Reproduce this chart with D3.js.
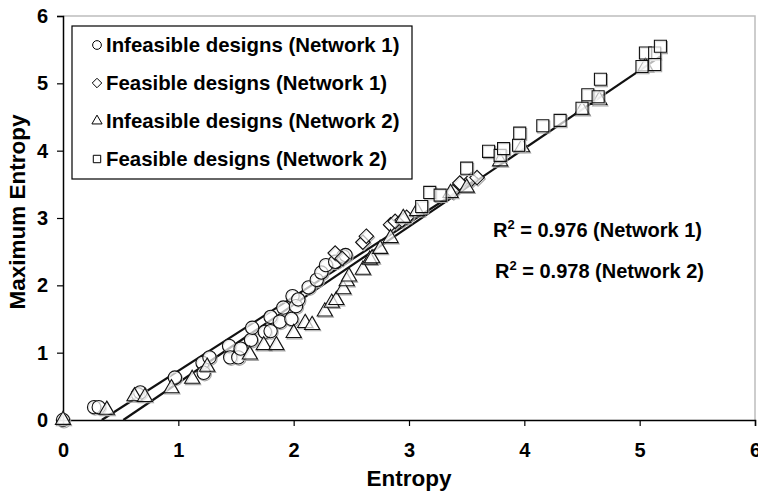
<!DOCTYPE html>
<html>
<head>
<meta charset="utf-8">
<script src="https://cdn.jsdelivr.net/npm/d3@7"></script>
<style>
    body { margin: 0; background: #fff; }
    text { font-family: "Liberation Sans", Arial, sans-serif; font-weight: bold; fill: #000; }
</style>
</head>
<body>
<div id="chart"></div>
<script>
// Infeasible designs (Network 1) - circles
const inf1X = [0, 0.27, 0.31, 0.65, 0.67, 0.97, 1.21, 1.22, 1.27, 1.44, 1.45, 1.52, 1.54, 1.63, 1.64, 1.75, 1.80, 1.80, 1.88, 1.91, 1.98, 1.99, 2.02, 2.04, 2.13, 2.20, 2.24, 2.28, 2.36, 2.43, 2.45];
const inf1Y = [0, 0.19, 0.19, 0.38, 0.41, 0.63, 0.85, 0.70, 0.93, 1.10, 0.93, 0.93, 1.06, 1.19, 1.37, 1.31, 1.32, 1.53, 1.46, 1.67, 1.50, 1.84, 1.69, 1.79, 1.97, 2.08, 2.19, 2.30, 2.35, 2.43, 2.45];
// Feasible designs (Network 1) - diamonds
const fea1X = [2.36, 2.42, 2.60, 2.63, 2.84, 2.88, 2.94, 2.98, 3.38, 3.44, 3.54, 3.59];
const fea1Y = [2.48, 2.40, 2.64, 2.73, 2.90, 2.95, 2.97, 3.01, 3.39, 3.52, 3.57, 3.60];
// Infeasible designs (Network 2) - triangles
const inf2X = [0, 0.38, 0.62, 0.71, 0.94, 1.12, 1.25, 1.62, 1.74, 1.85, 2.00, 2.10, 2.16, 2.27, 2.33, 2.37, 2.43, 2.46, 2.48, 2.60, 2.66, 2.68, 2.75, 2.84, 2.95, 3.07, 3.36, 3.50, 3.79, 3.98, 4.50, 4.65, 5.05];
const inf2Y = [0, 0.15, 0.35, 0.34, 0.47, 0.61, 0.79, 0.97, 1.11, 1.11, 1.29, 1.44, 1.41, 1.61, 1.74, 1.78, 1.94, 2.06, 2.13, 2.23, 2.38, 2.40, 2.54, 2.70, 3.00, 3.10, 3.37, 3.45, 3.84, 4.05, 4.60, 4.75, 5.25];
// Feasible designs (Network 2) - squares
const fea2X = [3.11, 3.18, 3.27, 3.50, 3.69, 3.79, 3.82, 3.95, 3.96, 4.16, 4.31, 4.50, 4.55, 4.64, 4.66, 5.02, 5.05, 5.13, 5.13, 5.18];
const fea2Y = [3.17, 3.38, 3.34, 3.74, 3.99, 3.93, 4.03, 4.08, 4.26, 4.37, 4.45, 4.63, 4.83, 4.80, 5.06, 5.25, 5.45, 5.45, 5.28, 5.55];

// trend lines (end points)
const trend1 = [[0.336, 0], [3.6, 3.59]];
const trend2 = [[0.523, 0], [5.18, 5.40]];

const xTicks = [0, 1, 2, 3, 4, 5, 6];
const yTicks = [0, 1, 2, 3, 4, 5, 6];

const legendNames = ["Infeasible designs (Network 1)", "Feasible designs (Network 1)",
    "Infeasible designs (Network 2)", "Feasible designs (Network 2)"];
const r2Labels = [["0.976", "Network 1"], ["0.978", "Network 2"]];

const width = 758, height = 491;
const margin = {top: 16, right: 3, bottom: 71, left: 63};

const svg = d3.select("#chart").append("svg")
    .attr("width", width)
    .attr("height", height);

const xx = d3.scaleLinear().domain([0, 6]).range([margin.left, width - margin.right]);
const yy = d3.scaleLinear().domain([0, 6]).range([height - margin.bottom, margin.top]);

// plot frame (top and right in grey)
svg.append("path")
    .attr("d", `M${xx(0)},${yy(6)}H${xx(6)}V${yy(0)}`)
    .attr("fill", "none")
    .attr("stroke", "#bdbdbd")
    .attr("stroke-width", 1.5);

// axes
const xAxis = svg.append("g")
    .attr("transform", `translate(0,${yy(0)})`)
    .call(d3.axisBottom(xx).tickValues(xTicks).tickSize(6).tickFormat(d3.format("d")));
const yAxis = svg.append("g")
    .attr("transform", `translate(${xx(0)},0)`)
    .call(d3.axisLeft(yy).tickValues(yTicks).tickSize(6).tickFormat(d3.format("d")));

[xAxis, yAxis].forEach(function (g) {
    g.select(".domain").attr("stroke", "#000").attr("stroke-width", 1.5);
    g.selectAll(".tick line").attr("stroke", "#000").attr("stroke-width", 1.2);
    g.selectAll(".tick text").style("font-size", "20px").style("font-weight", "bold")
        .style("font-family", "'Liberation Sans', Arial, sans-serif").attr("fill", "#000");
});
xAxis.selectAll(".tick text").attr("y", 23);
yAxis.selectAll(".tick text").attr("x", -15);

// axis titles
svg.append("text")
    .attr("x", (xx(0) + xx(6)) / 2)
    .attr("y", 486)
    .attr("text-anchor", "middle")
    .style("font-size", "22.5px")
    .text("Entropy");
svg.append("text")
    .attr("transform", `translate(25,212) rotate(-90)`)
    .attr("text-anchor", "middle")
    .style("font-size", "22.5px")
    .text("Maximum Entropy");

// trend lines
const line = d3.line().x(d => xx(d[0])).y(d => yy(d[1]));
[trend1, trend2].forEach(function (t) {
    svg.append("path")
        .datum(t)
        .attr("fill", "none")
        .attr("stroke", "#111")
        .attr("stroke-width", 2.2)
        .attr("d", line);
});

// marker shapes
const diamond = {
    draw: function (ctx, size) {
        const r = Math.sqrt(size) / 2 * Math.SQRT2;
        ctx.moveTo(0, -r); ctx.lineTo(r, 0); ctx.lineTo(0, r); ctx.lineTo(-r, 0); ctx.closePath();
    }
};
const shapes = [d3.symbolCircle, diamond, d3.symbolTriangle, d3.symbolSquare];
const sizes = [140, 105, 100, 145];
const series = [[inf1X, inf1Y], [fea1X, fea1Y], [inf2X, inf2Y], [fea2X, fea2Y]];

function drawSeries(k) {
    const pts = series[k][0].map((x, i) => [x, series[k][1][i]]);
    const sym = d3.symbol().type(shapes[k]).size(sizes[k]);
    const g = svg.append("g");
    g.selectAll("path.sh").data(pts).join("path")
        .attr("class", "sh")
        .attr("d", sym)
        .attr("transform", d => `translate(${xx(d[0]) + 1},${yy(d[1]) + 1.3})`)
        .attr("fill", "none")
        .attr("stroke", "#a8a8a8")
        .attr("stroke-width", 1.1);
    g.selectAll("path.pt").data(pts).join("path")
        .attr("class", "pt")
        .attr("d", sym)
        .attr("transform", d => `translate(${xx(d[0])},${yy(d[1])})`)
        .attr("fill", "#fff")
        .attr("fill-opacity", 0.7)
        .attr("stroke", "#111")
        .attr("stroke-width", 1.1);
}
[0, 1, 2, 3].forEach(drawSeries);

// legend
const legend = svg.append("g");
legend.append("rect")
    .attr("x", 72).attr("y", 26)
    .attr("width", 340).attr("height", 153)
    .attr("fill", "#fff")
    .attr("stroke", "#000")
    .attr("stroke-width", 1.2);
const legSizes = [60, 45, 45, 55];
legendNames.forEach(function (name, i) {
    const cy = 45 + i * 38;
    legend.append("path")
        .attr("d", d3.symbol().type(shapes[i]).size(legSizes[i]))
        .attr("transform", `translate(97,${cy})`)
        .attr("fill", "#fff")
        .attr("stroke", "#000")
        .attr("stroke-width", 1);
    legend.append("text")
        .attr("x", 106)
        .attr("y", cy + 7)
        .style("font-size", "20.4px")
        .text(name);
});

// R squared annotations
r2Labels.forEach(function (r, i) {
    const t = svg.append("text")
        .attr("x", 493 + i * 2)
        .attr("y", 237 + i * 41)
        .style("font-size", "20px");
    t.append("tspan").text("R");
    t.append("tspan").text("2").attr("dy", -8).style("font-size", "13px");
    t.append("tspan").text(" = " + r[0] + " (" + r[1] + ")").attr("dy", 8);
});
</script>
</body>
</html>
